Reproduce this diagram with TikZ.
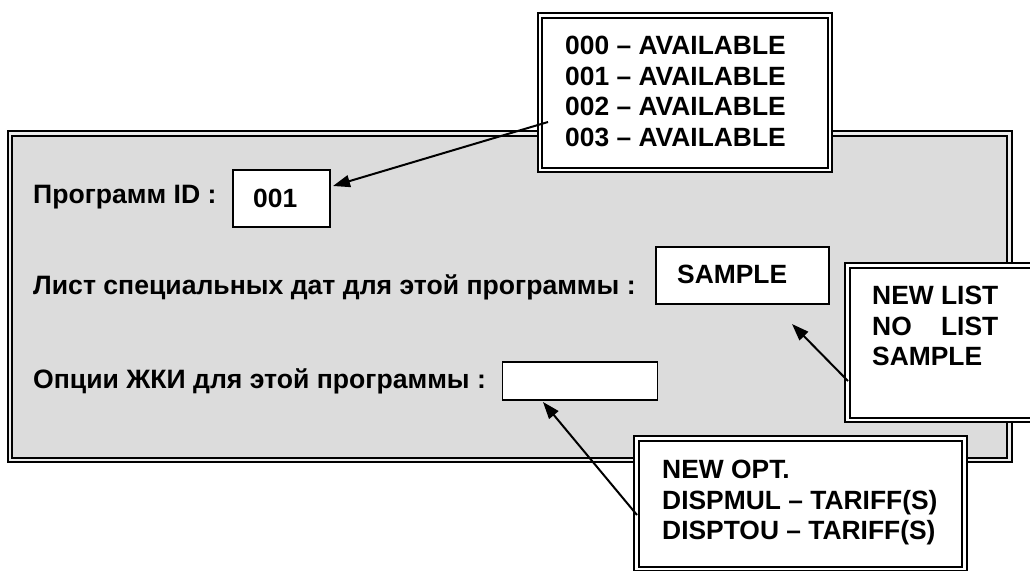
\documentclass[tikz,border=0pt]{standalone}
\usepackage{fontspec}
\setmainfont{Liberation Sans}
\usepackage{calc}
\usetikzlibrary{arrows.meta}
\definecolor{panelgray}{RGB}{220,220,220}
\definecolor{gapgray}{RGB}{236,236,236}
\begin{document}
\begin{tikzpicture}[x=1pt,y=-1pt,
  lbl/.style={font=\fontsize{26.6}{30.5}\selectfont\bfseries, anchor=base west, inner sep=0},
  val/.style={font=\fontsize{26.4}{30.5}\selectfont\bfseries, anchor=base west, inner sep=0},
  multi/.style={font=\fontsize{26.4}{30.5}\selectfont\bfseries, anchor=north west, inner sep=0, align=left},
  inbox/.style={draw, line width=1.8pt, fill=white, inner sep=0},
  callout/.style={draw=black, double=white, double distance=2.5pt, line width=2.2pt, fill=white, inner sep=0},
  panel/.style={draw=black, double=gapgray, double distance=2.5pt, line width=2.2pt, fill=panelgray, inner sep=0},
  conn/.style={line width=2pt, -{Triangle[length=17pt,width=12pt]}}
]
\useasboundingbox (0,0) rectangle (1030,570);
\fill[white] (0,0) rectangle (1030,570);
\clip (0,0) rectangle (1030,570);
% panel
\node[panel, minimum width=999.5pt, minimum height=326.5pt] (panel) at (509.75,296.75) {};
% input boxes
\node[inbox, minimum width=97pt, minimum height=57pt] (idbox) at (281.5,198.5) {};
\node[inbox, minimum width=173pt, minimum height=57pt] (samplebox) at (742.5,275.5) {};
\node[inbox, minimum width=155pt, minimum height=38pt] (emptybox) at (580,381) {};
% labels
\node[lbl] (lid) at (33,203) {Программ ID :};
\node[val] (vid) at (253,207) {001};
\node[lbl] (llist) at (33,294) {Лист специальных дат для этой программы :};
\node[val] (vsample) at (677,283) {SAMPLE};
\node[lbl] (lopt) at (33,388) {Опции ЖКИ для этой программы :};
% callouts
\node[callout, minimum width=290pt, minimum height=154.5pt] (avail) at (685,92.75) {};
\node[callout, minimum width=197.5pt, minimum height=154.5pt] (newlist) at (946.25,342.75) {};
\node[callout, minimum width=328pt, minimum height=130.5pt] (newopt) at (800.5,503.75) {};
\node[multi] (tavail) at (565,36) {000 – AVAILABLE\\001 – AVAILABLE\\002 – AVAILABLE\\003 – AVAILABLE};
\node[multi] (tlist) at (872,286) {NEW LIST\\\makebox[\widthof{NEW LIST}][s]{NO\hfill LIST}\\SAMPLE};
\node[multi] (topt) at (662,460) {NEW OPT.\\DISPMUL – TARIFF(S)\\DISPTOU – TARIFF(S)};
% connectors
\coordinate (s1) at (548,122);
\coordinate (e1) at (333,186);
\coordinate (s2) at (848,381);
\coordinate (e2) at (792,324);
\coordinate (s3) at (637,515);
\coordinate (e3) at (543,402);
\draw[conn] (s1) -- (e1);
\draw[conn] (s2) -- (e2);
\draw[conn] (s3) -- (e3);
\end{tikzpicture}
\end{document}
